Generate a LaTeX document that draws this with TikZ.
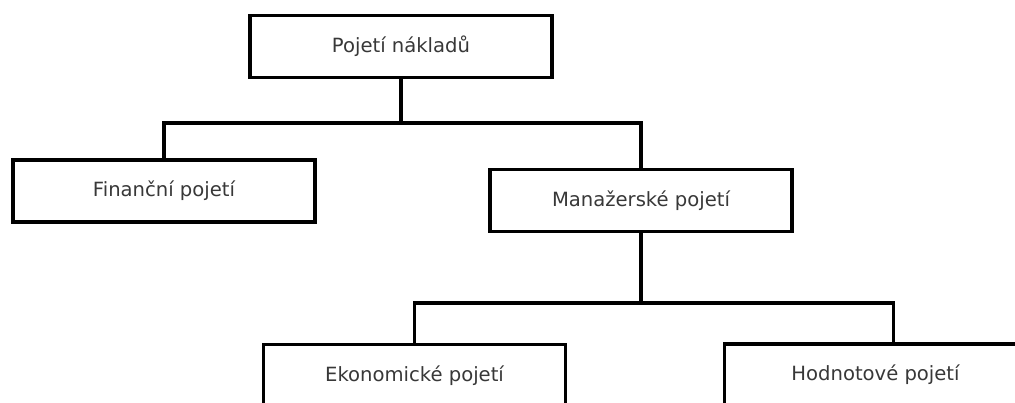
\documentclass[tikz,border=0pt]{standalone}
\usepackage{fontspec}
\setmainfont{DejaVu Sans}
\begin{document}
\begin{tikzpicture}[x=1pt,y=-1pt,
	box/.style={draw=black, line width=3.3pt, minimum width=302pt, minimum height=62pt,
		inner sep=0pt, text=black!78, font=\fontsize{19.6}{24}\selectfont},
	con/.style={line width=3.3pt}]
	
		% frame
		\useasboundingbox (0,0) rectangle (1015,402);
		\clip (0,0) rectangle (1015,402);
		\fill[white] (0,0) rectangle (1015,402);
		
		% boxes
		\node[box] (naklady) at (401, 46.5) {Pojetí nákladů};
		\node[box] (financni) at (164, 191) {Finanční pojetí};
		\node[box] (manazerske) at (641, 200.5) {Manažerské pojetí};
		\node[box] (ekonomicke) at (414.5, 375.5) {Ekonomické pojetí};
		\node[box] (hodnotove) at (875.5, 375) {Hodnotové pojetí};
		
		% branch points
		\coordinate (split1) at (401, 123);
		\coordinate (split2) at (641, 303);
		
		% connectors
		\draw[con] (naklady.south) -- (split1);
		\draw[con] (financni.north) |- (split1) -| (manazerske.north);
		\draw[con] (manazerske.south) -- (split2);
		\draw[con] (ekonomicke.north) |- (split2) -| ([xshift=18pt]hodnotove.north);
	
	\end{tikzpicture}
\end{document}
